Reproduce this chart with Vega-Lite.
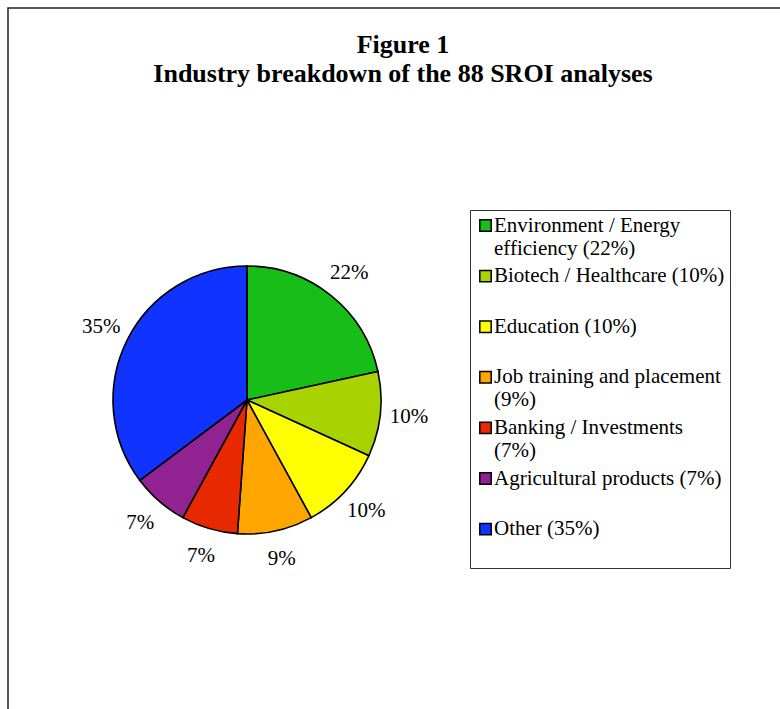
{
  "$schema": "https://vega.github.io/schema/vega-lite/v6.json",
  "autosize": "none",
  "width": 790,
  "height": 720,
  "padding": {"left": 8, "top": 8, "right": 0, "bottom": 0},
  "background": "white",
  "view": {"stroke": "#222222", "strokeWidth": 1.5},
  "config": {
    "font": "Liberation Serif",
    "style": {"guide-label": {"lineHeight": 23}}
  },
  "title": {
    "text": ["Figure 1", "Industry breakdown of the 88 SROI analyses"],
    "font": "Liberation Serif",
    "fontSize": 26,
    "fontWeight": "bold",
    "color": "black",
    "anchor": "middle",
    "offset": -79,
    "lineHeight": 29
  },
  "data": {
    "values": [
      {"category": "Environment / Energy efficiency (22%)", "count": 19, "label": "22%", "order": 1},
      {"category": "Biotech / Healthcare (10%)", "count": 9, "label": "10%", "order": 2},
      {"category": "Education (10%)", "count": 9, "label": "10%", "order": 3},
      {"category": "Job training and placement (9%)", "count": 8, "label": "9%", "order": 4},
      {"category": "Banking / Investments (7%)", "count": 6, "label": "7%", "order": 5},
      {"category": "Agricultural products (7%)", "count": 6, "label": "7%", "order": 6},
      {"category": "Other (35%)", "count": 31, "label": "35%", "order": 7}
    ]
  },
  "encoding": {
    "theta": {"field": "count", "type": "quantitative", "stack": true},
    "order": {"field": "order", "type": "quantitative"}
  },
  "layer": [
    {
      "mark": {"type": "arc", "x": 239, "y": 392, "outerRadius": 134, "stroke": "black", "strokeWidth": 1.6},
      "encoding": {
        "color": {
          "field": "category",
          "type": "nominal",
          "sort": null,
          "scale": {
            "domain": ["Environment / Energy efficiency (22%)", "Biotech / Healthcare (10%)", "Education (10%)", "Job training and placement (9%)", "Banking / Investments (7%)", "Agricultural products (7%)", "Other (35%)"],
            "range": ["#17BE17", "#A8D200", "#FFFF00", "#FFA500", "#E82800", "#912291", "#1033FF"]
          },
          "legend": {
            "title": null,
            "orient": "none",
            "legendX": 462,
            "legendY": 202,
            "strokeColor": "#333333",
            "padding": 5,
            "symbolType": "square",
            "symbolSize": 130,
            "symbolStrokeColor": "black",
            "symbolStrokeWidth": 1.5,
            "symbolOpacity": 1,
            "labelFont": "Liberation Serif",
            "labelFontSize": 21,
            "labelColor": "black",
            "labelLimit": 400,
            "labelOffset": -2,
            "labelBaseline": "top",
            "rowPadding": 5.6,
            "labelExpr": "datum.label == 'Environment / Energy efficiency (22%)' ? ['Environment / Energy', 'efficiency (22%)'] : datum.label == 'Job training and placement (9%)' ? ['Job training and placement', '(9%)'] : datum.label == 'Banking / Investments (7%)' ? ['Banking / Investments', '(7%)'] : [datum.label, ' ']",
            "encode": {"labels": {"update": {"dy": {"value": -11}}}}
          }
        }
      }
    },
    {
      "mark": {"type": "text", "x": 239, "y": 392, "radius": 163, "font": "Liberation Serif", "fontSize": 21, "color": "black"},
      "encoding": {
        "text": {"field": "label", "type": "nominal"}
      }
    }
  ]
}
